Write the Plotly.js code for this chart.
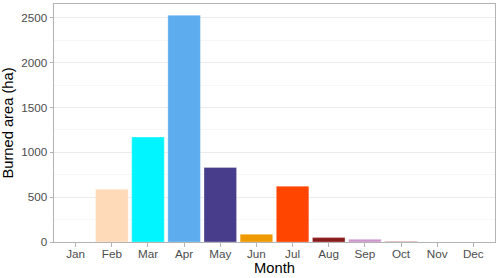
<!DOCTYPE html>
<html><head><meta charset="utf-8">
<script src="https://cdn.plot.ly/plotly-3.0.1.min.js"></script>
<style>html,body{margin:0;padding:0;background:#fff}#chart{width:500px;height:278px}</style>
</head><body><div id="chart"></div>
<script>
const months = ["Jan","Feb","Mar","Apr","May","Jun","Jul","Aug","Sep","Oct","Nov","Dec"];
const burnedArea = [0, 589, 1170, 2528, 832, 86, 622, 49, 30, 7, 0, 0];
const barColors = ["#FFFFFF","#FFDAB9","#00F5FF","#5CACEE","#483D8B","#EE9A00","#FF4500","#8B1A1A","#CD96CD","#CD8C95","#FFFFFF","#FFFFFF"];
const yTicks = [0, 500, 1000, 1500, 2000, 2500];

const trace = {
  type: "bar", x: months, y: burnedArea,
  marker: {color: barColors, line: {color: "rgba(255,255,255,0.6)", width: 0.5}},
  width: 0.9, hoverinfo: "x+y"
};
const tickFont = {family: "Liberation Sans, Arial, sans-serif", size: 11.7, color: "#4D4D4D"};
const titleFont = {family: "Liberation Sans, Arial, sans-serif", size: 14.7, color: "#000000"};
const layout = {
  width: 500, height: 278,
  margin: {l: 54, r: 5, t: 4, b: 36, pad: 0},
  paper_bgcolor: "#FFFFFF", plot_bgcolor: "#FFFFFF",
  showlegend: false, bargap: 0.1,
  xaxis: {
    type: "category", categoryorder: "array", categoryarray: months,
    range: [-0.6, 11.6], showgrid: false, zeroline: false,
    showline: true, mirror: true, linecolor: "#B3B3B3", linewidth: 1,
    ticks: "outside", ticklen: 3.5, tickcolor: "#B3B3B3", tickwidth: 1,
    ticklabelstandoff: -3,
    tickfont: tickFont,
    title: {text: "Month", font: titleFont, standoff: 2}
  },
  yaxis: {
    range: [0, 2654], tickvals: yTicks, ticktext: yTicks.map(String),
    showgrid: true, gridcolor: "#EBEBEB", gridwidth: 1, zeroline: false,
    minor: {dtick: 250, tick0: 0, showgrid: true, gridcolor: "#F5F5F5", gridwidth: 0.8, ticks: ""},
    showline: true, mirror: true, linecolor: "#B3B3B3", linewidth: 1,
    ticks: "outside", ticklen: 3.5, tickcolor: "#B3B3B3", tickwidth: 1,
    tickfont: tickFont,
    title: {text: "Burned area (ha)", font: titleFont, standoff: 6}
  }
};
Plotly.newPlot("chart", [trace], layout, {displayModeBar: false, staticPlot: true});
</script></body></html>
